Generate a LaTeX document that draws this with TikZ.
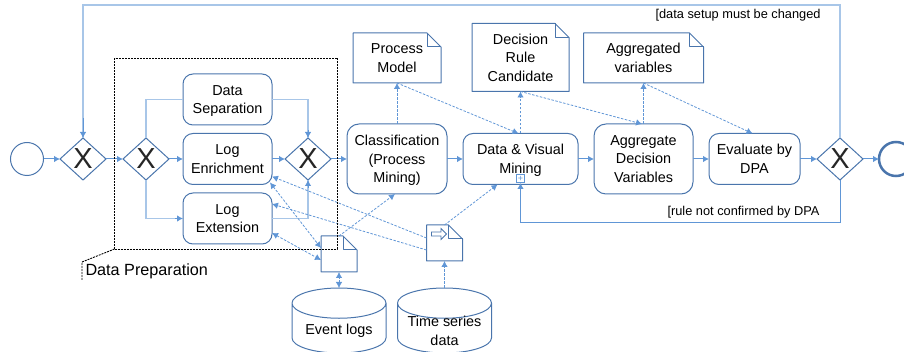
\documentclass[tikz,border=0pt]{standalone}
\usepackage{xcolor}
\usepackage{fontspec}
\setmainfont{Liberation Sans}
\usepackage{tikz}
\usetikzlibrary{shapes.geometric, shapes.arrows, arrows.meta, positioning}
\definecolor{shapeline}{RGB}{74, 117, 172}
\definecolor{flowline}{RGB}{96, 150, 214}
\definecolor{branchline}{RGB}{168, 198, 232}

\begin{document}
\begin{tikzpicture}[
    x=1pt, y=-1pt,
    line width=1pt,
    bodyfont/.style={font=\fontsize{14.4}{18.5}\selectfont},
    event/.style={draw=shapeline, circle, inner sep=0pt, minimum size=33pt, outer sep=0pt},
    gateway/.style={draw=shapeline, diamond, aspect=1.1, inner sep=0pt, minimum width=46pt, minimum height=42pt, outer sep=0pt, font=\fontsize{29}{29}\selectfont, text=black!85},
    task/.style={draw=shapeline, rounded corners=10pt, minimum height=51pt, outer sep=0pt, inner sep=0pt, align=center, bodyfont, text depth=-3pt},
    preptask/.style={task, minimum width=89pt, text depth=-6pt},
    dataobj/.style={minimum width=#1, outer sep=0pt, inner sep=0pt, align=center, bodyfont, text depth=-5pt,
        append after command={\pgfextra{
            \draw[shapeline, line join=round] (\tikzlastnode.north west) -- ([xshift=-14pt]\tikzlastnode.north east) -- ([yshift=-14pt]\tikzlastnode.north east) -- (\tikzlastnode.south east) -- (\tikzlastnode.south west) -- cycle;
            \draw[shapeline, line join=round] ([xshift=-14pt]\tikzlastnode.north east) -- ([xshift=-14pt,yshift=-14pt]\tikzlastnode.north east) -- ([yshift=-14pt]\tikzlastnode.north east);
        }}},
    store/.style={draw=shapeline, cylinder, shape border rotate=90, aspect=0.45, minimum width=94pt, minimum height=65pt, outer sep=0pt, inner sep=0pt, bodyfont},
    storetext/.style={align=center, inner sep=0pt, bodyfont},
    flow/.style={-{Latex[length=6pt,width=6.5pt]}, flowline},
    branch/.style={branchline, line width=1.2pt},
    dataflow/.style={-{Latex[length=6pt,width=6.5pt]}, flowline, dash pattern=on 2.5pt off 1.5pt, line width=0.8pt},
    databoth/.style={dataflow, {Latex[length=6pt,width=6.5pt]}-{Latex[length=6pt,width=6.5pt]}},
    prepline/.style={black, dash pattern=on 2pt off 1pt, line width=0.9pt},
    guard/.style={font=\fontsize{12.8}{15}\selectfont, anchor=west, inner sep=0pt}
]
    \useasboundingbox (0,0) rectangle (904,352);

    % Nodes - main row
    \node[event] (start) at (27,159) {};
    \node[gateway, right=16.5pt of start] (gate1) {X};
    \node[gateway, right=17pt of gate1] (gate2) {X};
    \node[preptask, right=14pt of gate2] (enrich) {Log\\Enrichment};
    \node[gateway, right=13pt of enrich] (gate3) {X};
    \node[task, minimum width=100pt, minimum height=70pt, rounded corners=12pt, right=16pt of gate3] (classify) {Classification\\(Process\\Mining)};
    \node[task, minimum width=115pt, right=16pt of classify] (mining) {Data \& Visual\\Mining};
    \node[task, minimum width=99pt, minimum height=70pt, rounded corners=12pt, right=16pt of mining] (aggregate) {Aggregate\\Decision\\Variables};
    \node[task, minimum width=91pt, right=16pt of aggregate] (evaluate) {Evaluate by\\DPA};
    \node[gateway, right=17pt of evaluate] (gate4) {X};
    \node[event, draw=shapeline, line width=2.5pt, minimum size=34pt, right=16pt of gate4] (finish) {};

    % Nodes - tasks above and below
    \node[preptask, above=8.5pt of enrich] (separate) {Data\\Separation};
    \node[preptask, below=8.5pt of enrich] (extend) {Log\\Extension};
    \node[draw=flowline, fill=white, minimum size=8pt, inner sep=0pt, line width=0.7pt, text=flowline, font=\fontsize{9}{9}\selectfont, anchor=south] (subproc) at ([yshift=1.5pt]mining.south) {+};

    % Nodes - documents
    \node[dataobj=88pt, minimum height=50pt, above=41pt of classify] (procmodel) {Process\\Model};
    \node[dataobj=97pt, minimum height=68pt, above=42pt of mining] (candidate) {Decision\\Rule\\Candidate};
    \node[dataobj=120pt, minimum height=50pt, above=41pt of aggregate] (aggvars) {Aggregated\\variables};
    \node[dataobj=36pt, minimum height=36pt] (logdoc) at (339,254) {};
    \node[dataobj=36pt, minimum height=36pt] (seriesdoc) at (444.5,243) {};
    \node[draw=shapeline, fill=white, single arrow, single arrow head extend=2.5pt, minimum height=15pt, minimum width=11pt, inner sep=1pt, line width=0.8pt] (inputmark) at ([xshift=11.5pt,yshift=-9pt]seriesdoc.north west) {};

    % Nodes - stores
    \node[store, below=16pt of logdoc] (eventlogs) {\phantom{Event logs}};
    \node[store, below=27pt of seriesdoc] (timeseries) {\phantom{Event logs}};
    \node[storetext] (eventtext) at ([yshift=-2.5pt]eventlogs.center) {Event logs};
    \node[storetext] (seriestext) at ([yshift=-2.5pt]timeseries.center) {Time series\\data};

    % Loop corners
    \coordinate (looptop) at (83,5);
    \coordinate (loopbottom) at (520.5,223);

    % Sequence flows
    \draw[flow] (start) -- (gate1);
    \draw[flow] (gate1) -- (gate2);
    \draw[flow] (gate2) -- (enrich);
    \draw[flow] (enrich) -- (gate3);
    \draw[flow] (gate3) -- (classify);
    \draw[flow] (classify) -- (mining);
    \draw[flow] (mining) -- (aggregate);
    \draw[flow] (aggregate) -- (evaluate);
    \draw[flow] (evaluate) -- (gate4);
    \draw[flow] (gate4) -- (finish);

    % Branches
    \draw[branch] (gate2.north) |- (separate.west);
    \draw[branch] (separate.east) -| (gate3.north);
    \draw[flow] ([yshift=8pt]gate3.north) -- (gate3.north);
    \draw[branch] (gate2.south) |- (extend.west);
    \draw[flow] ([xshift=-8pt]extend.west) -- (extend.west);
    \draw[branch] (extend.east) -| (gate3.south);
    \draw[flow] ([yshift=-8pt]gate3.south) -- (gate3.south);

    % Loops
    \draw[branch] (gate4.north) |- (looptop) -- (gate1.north);
    \draw[flow] ([yshift=20pt]gate1.north) -- (gate1.north);
    \draw[flow] (gate4.south) |- (loopbottom) -- (subproc.south);
    \node[guard] (setuplabel) at (655,15.5) {[data setup must be changed};
    \node[guard] (rulelabel) at (667,212.5) {[rule not confirmed by DPA};

    % Data flows
    \draw[databoth] ([xshift=-2pt,yshift=2pt]enrich.south east) -- ([yshift=6pt]logdoc.west);
    \draw[databoth] ([yshift=11pt]extend.south east) -- ([yshift=-6pt]logdoc.west);
    \draw[dataflow] ([yshift=5pt]seriesdoc.west) -- ([yshift=8pt]enrich.south east);
    \draw[dataflow] ([yshift=-7pt]seriesdoc.west) -- ([yshift=-11pt]extend.north east);
    \draw[dataflow] (logdoc.north) -- ([xshift=-2pt]classify.south);
    \draw[dataflow] (seriesdoc.north) -- ([xshift=-23pt]mining.south);
    \draw[databoth] (eventlogs.north) -- (logdoc.south);
    \draw[dataflow] (timeseries.north) -- (seriesdoc.south);
    \draw[dataflow] (classify.north) -- (procmodel.south);
    \draw[dataflow] (procmodel.south) -- ([xshift=-2pt]mining.north);
    \draw[dataflow] (mining.north) -- (candidate.south);
    \draw[dataflow] (candidate.south) -- ([xshift=-1.5pt]aggregate.north);
    \draw[dataflow] (aggregate.north) -- (aggvars.south);
    \draw[dataflow] (aggvars.south) -- ([xshift=-2pt]evaluate.north);

    % Group
    \node[draw, prepline, minimum width=222.5pt, minimum height=191pt, outer sep=0pt] (dataprep) at (225.75,153.5) {};
    \coordinate (preptail) at (82,262);
    \draw[prepline] (dataprep.south west) -- (preptail) -- ++(0,18);
    \node[anchor=west, inner sep=0pt, font=\fontsize{16.2}{18}\selectfont] (preplabel) at (85,271) {Data Preparation};
\end{tikzpicture}
\end{document}
